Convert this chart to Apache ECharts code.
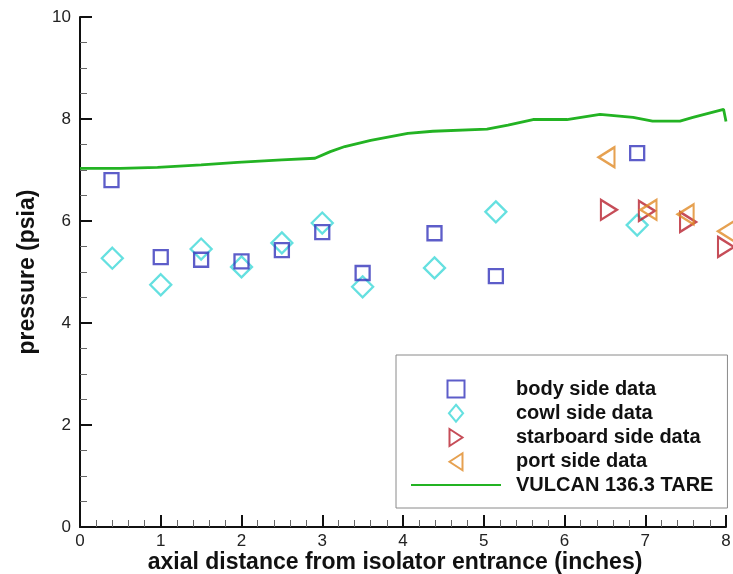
<!DOCTYPE html>
<html>
<head>
<meta charset="utf-8">
<script src="https://cdn.jsdelivr.net/npm/echarts@6/dist/echarts.min.js"></script>
<style>
  html, body { margin: 0; padding: 0; background: #fff; }
  #chart { width: 733px; height: 574px; }
</style>
</head>
<body>
<div id="chart"></div>
<script>
// Wall pressure along the isolator: measured taps on each side plus the CFD run
const bodyX = [0.39, 1.0, 1.5, 2.0, 2.5, 3.0, 3.5, 4.39, 5.15, 6.9];
const bodyY = [6.80, 5.29, 5.24, 5.21, 5.43, 5.78, 4.98, 5.76, 4.92, 7.33];

const cowlX = [0.40, 1.0, 1.5, 2.0, 2.5, 3.0, 3.5, 4.39, 5.15, 6.9];
const cowlY = [5.27, 4.75, 5.45, 5.10, 5.57, 5.96, 4.71, 5.08, 6.18, 5.92];

const starboardX = [6.55, 7.02, 7.53, 8.0];
const starboardY = [6.22, 6.20, 5.98, 5.49];

const portX = [6.52, 7.04, 7.50, 8.0];
const portY = [7.25, 6.22, 6.13, 5.80];

const tareX = [0, 0.5, 0.96, 1.5, 1.95, 2.5, 2.91, 3.1, 3.28, 3.6, 4.06, 4.37, 5.04, 5.3, 5.61, 6.03, 6.44, 6.85, 7.09, 7.43, 7.59, 7.97, 8.0];
const tareY = [7.03, 7.03, 7.05, 7.10, 7.15, 7.20, 7.23, 7.36, 7.46, 7.58, 7.72, 7.76, 7.80, 7.88, 7.99, 7.99, 8.09, 8.03, 7.96, 7.96, 8.03, 8.19, 7.95];

const seriesNames = ['body side data', 'cowl side data', 'starboard side data', 'port side data', 'VULCAN 136.3 TARE'];
const xTicks = [0, 1, 2, 3, 4, 5, 6, 7, 8];
const yTicks = [0, 2, 4, 6, 8, 10];

const pairs = (xs, ys) => xs.map((x, i) => [x, ys[i]]);

const FONT = '"Liberation Sans", Arial, sans-serif';
const SQUARE = 'path://M0,0H10V10H0Z';
const DIAMOND = 'path://M5,0L10,6L5,12L0,6Z';
const RIGHT_TRI = 'path://M0,0L13,8.5L0,17Z';
const LEFT_TRI = 'path://M13,0L0,8.5L13,17Z';

const COLORS = {
  body: '#3434bc',
  cowl: '#3fd8d8',
  starboard: '#b8202e',
  port: '#e08a26',
  tare: '#23b323'
};

function hollow(color) {
  return { color: 'none', borderColor: color, borderWidth: 2.3 };
}

const chart = echarts.init(document.getElementById('chart'), null, { renderer: 'canvas' });

const axisCommon = {
  axisLine: { show: true, onZero: false, lineStyle: { color: '#111', width: 2 } },
  axisTick: { show: true, inside: true, length: 12, lineStyle: { color: '#111', width: 2 } },
  minorTick: { show: true, length: 7, lineStyle: { color: '#666', width: 1 } },
  splitLine: { show: false },
  nameMoveOverlap: false,
  axisLabel: { fontFamily: FONT, fontSize: 17, color: '#222' }
};
const nameStyle = { fontFamily: FONT, fontWeight: 'bold', fontSize: 23, color: '#111' };

chart.setOption({
  backgroundColor: '#fff',
  animation: false,
  grid: { left: 80, right: 7, top: 17, bottom: 47, containLabel: false, outerBoundsMode: 'none' },
  xAxis: Object.assign({}, axisCommon, {
    type: 'value',
    min: xTicks[0],
    max: xTicks[xTicks.length - 1],
    interval: 1,
    minorTick: Object.assign({}, axisCommon.minorTick, { splitNumber: 5 }),
    name: 'axial distance from isolator entrance (inches)',
    nameLocation: 'middle',
    nameGap: 24,
    nameTextStyle: Object.assign({}, nameStyle, { padding: [0, 16, 0, 0] }),
    axisLabel: Object.assign({}, axisCommon.axisLabel, { margin: 6 })
  }),
  yAxis: Object.assign({}, axisCommon, {
    type: 'value',
    min: yTicks[0],
    max: yTicks[yTicks.length - 1],
    interval: 2,
    minorTick: Object.assign({}, axisCommon.minorTick, { splitNumber: 4 }),
    name: 'pressure (psia)',
    nameLocation: 'middle',
    nameGap: 41,
    nameTextStyle: nameStyle,
    axisLabel: Object.assign({}, axisCommon.axisLabel, { margin: 9 })
  }),
  legend: {
    orient: 'vertical',
    left: 396,
    top: 355,
    padding: [23, 14, 13, 14],
    itemWidth: 90,
    itemHeight: 17,
    itemGap: 2.25,
    borderColor: '#8a8a8a',
    borderWidth: 1,
    backgroundColor: '#fff',
    textStyle: { fontFamily: FONT, fontWeight: 'bold', fontSize: 20, lineHeight: 20, color: '#111', padding: [0, 0, 0, 10] },
    data: [
      { name: seriesNames[0], icon: SQUARE },
      { name: seriesNames[1], icon: DIAMOND },
      { name: seriesNames[2] },
      { name: seriesNames[3] },
      { name: seriesNames[4], itemStyle: { color: 'transparent', borderWidth: 0, opacity: 0 } }
    ]
  },
  series: [
    {
      name: seriesNames[0], type: 'scatter', clip: false,
      symbol: 'rect', symbolSize: 14,
      itemStyle: hollow(COLORS.body),
      data: pairs(bodyX, bodyY), z: 4
    },
    {
      name: seriesNames[1], type: 'scatter', clip: false,
      symbol: 'diamond', symbolSize: 21,
      itemStyle: hollow(COLORS.cowl),
      data: pairs(cowlX, cowlY), z: 3
    },
    {
      name: seriesNames[2], type: 'scatter', clip: false,
      symbol: RIGHT_TRI, symbolSize: [16, 20],
      itemStyle: hollow(COLORS.starboard),
      data: pairs(starboardX, starboardY), z: 5
    },
    {
      name: seriesNames[3], type: 'scatter', clip: false,
      symbol: LEFT_TRI, symbolSize: [16, 20],
      itemStyle: hollow(COLORS.port),
      data: pairs(portX, portY), z: 5
    },
    {
      name: seriesNames[4], type: 'line',
      symbol: 'none', showSymbol: false,
      lineStyle: { color: COLORS.tare, width: 2.8 },
      itemStyle: { color: COLORS.tare },
      data: pairs(tareX, tareY), z: 2
    }
  ]
});
</script>
</body>
</html>
